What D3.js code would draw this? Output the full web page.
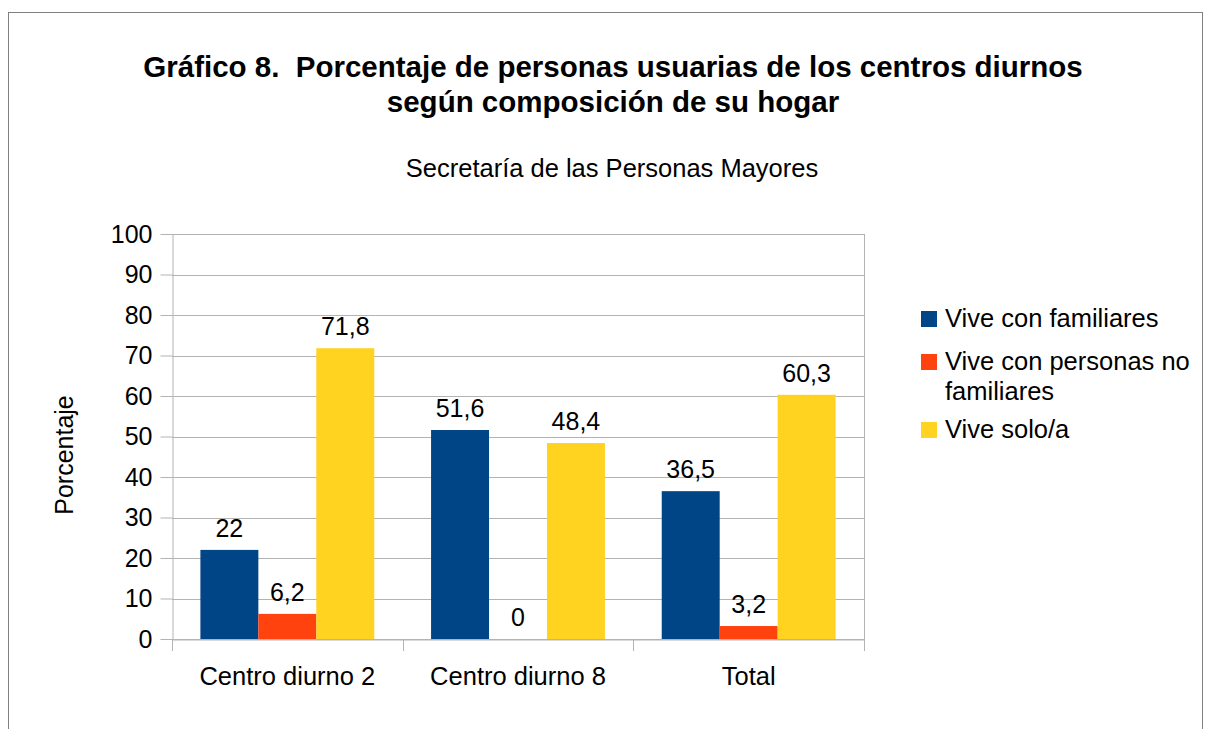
<!DOCTYPE html>
<html>
<head>
<meta charset="utf-8">
<script src="https://cdn.jsdelivr.net/npm/d3@7"></script>
<style>
  body { margin: 0; background: #fff; }
  text { font-family: "Liberation Sans", Arial, sans-serif; fill: #000; }
</style>
</head>
<body>
<div id="chart"></div>
<script>
// Data
var categories = ["Centro diurno 2", "Centro diurno 8", "Total"];
var series = ["Vive con familiares", "Vive con personas no familiares", "Vive solo/a"];
var familiares = [22, 51.6, 36.5];
var noFamiliares = [6.2, 0, 3.2];
var solo = [71.8, 48.4, 60.3];
var yTicks = [0, 10, 20, 30, 40, 50, 60, 70, 80, 90, 100];
var colors = ["#004586", "#ff420e", "#ffd320"];

var values = [familiares, noFamiliares, solo];

var W = 1205, H = 729;
var svg = d3.select("#chart").append("svg")
            .attr("width", W)
            .attr("height", H);

// outer frame
svg.append("rect")
   .attr("x", 8.5).attr("y", 12.5)
   .attr("width", 1194).attr("height", 740)
   .attr("fill", "none")
   .attr("stroke", "#808080")
   .attr("stroke-width", 1);

// Titles
svg.append("text").attr("x", 613).attr("y", 77)
   .attr("text-anchor", "middle").style("font-weight", "bold").style("font-size", "29.5px")
   .style("white-space", "pre")
   .text("Gráfico 8.  Porcentaje de personas usuarias de los centros diurnos");
svg.append("text").attr("x", 613).attr("y", 112)
   .attr("text-anchor", "middle").style("font-weight", "bold").style("font-size", "29.5px")
   .text("según composición de su hogar");
svg.append("text").attr("x", 612).attr("y", 177)
   .attr("text-anchor", "middle").style("font-size", "25.5px")
   .text("Secretaría de las Personas Mayores");

// Plot area
var plotLeft = 172, plotRight = 864, plotTop = 234, plotBottom = 639;

var x = d3.scaleBand()
          .domain(categories)
          .range([plotLeft, plotRight])
          .padding(0);

var xSub = d3.scaleBand()
             .domain(d3.range(series.length))
             .range([0, x.bandwidth()])
             .paddingInner(0)
             .paddingOuter(0.49);

var y = d3.scaleLinear()
          .domain([0, 100])
          .range([plotBottom, plotTop]);

// gridlines
svg.append("g")
   .selectAll("line")
   .data(yTicks)
   .enter().append("line")
   .attr("x1", plotLeft).attr("x2", plotRight)
   .attr("y1", function(d) { return Math.round(y(d)) + 0.5; })
   .attr("y2", function(d) { return Math.round(y(d)) + 0.5; })
   .attr("stroke", "#b3b3b3");

// right border of plot
svg.append("line")
   .attr("x1", plotRight + 0.5).attr("x2", plotRight + 0.5)
   .attr("y1", plotTop).attr("y2", plotBottom)
   .attr("stroke", "#b3b3b3");

// bars
var groups = svg.append("g")
   .selectAll("g")
   .data(values)
   .enter().append("g")
   .attr("fill", function(d, i) { return colors[i]; });

function rows(d, i) {
  return d.map(function(v, j) { return {v: v, s: i, c: categories[j]}; });
}

groups.selectAll("rect")
   .data(rows)
   .enter().append("rect")
   .attr("x", function(d) { return x(d.c) + xSub(d.s); })
   .attr("y", function(d) { return y(d.v); })
   .attr("width", xSub.bandwidth())
   .attr("height", function(d) { return y(0) - y(d.v); });

// data labels
groups.selectAll("text")
   .data(rows)
   .enter().append("text")
   .attr("x", function(d) { return x(d.c) + xSub(d.s) + xSub.bandwidth() / 2; })
   .attr("y", function(d) { return y(d.v) - 13; })
   .attr("text-anchor", "middle")
   .style("font-size", "25px")
   .text(function(d) { return String(d.v).replace(".", ","); });

// Y axis
var yAxis = svg.append("g")
   .attr("transform", "translate(" + (plotLeft + 0.5) + ",0)")
   .call(d3.axisLeft(y).tickValues(yTicks).tickSize(12).tickPadding(8).tickSizeOuter(0));
yAxis.select(".domain").attr("stroke", "#b3b3b3");
yAxis.selectAll(".tick line").attr("stroke", "#b3b3b3");
yAxis.selectAll(".tick text").style("font-size", "25px").attr("fill", "#000")
     .style("font-family", "Liberation Sans, Arial, sans-serif");

// X axis
var xAxis = svg.append("g")
   .attr("transform", "translate(0," + (plotBottom + 0.5) + ")")
   .call(d3.axisBottom(x).tickSize(0).tickPadding(27).tickSizeOuter(0));
xAxis.select(".domain").attr("stroke", "#b3b3b3");
xAxis.selectAll(".tick text").style("font-size", "25.5px").attr("fill", "#000")
     .style("font-family", "Liberation Sans, Arial, sans-serif");

// category boundary ticks
var bounds = categories.map(function(c) { return x(c); }).concat([plotRight]);
svg.append("g")
   .selectAll("line")
   .data(bounds)
   .enter().append("line")
   .attr("x1", function(d) { return Math.round(d) + 0.5; })
   .attr("x2", function(d) { return Math.round(d) + 0.5; })
   .attr("y1", plotBottom).attr("y2", plotBottom + 12)
   .attr("stroke", "#b3b3b3");

// Y title
svg.append("text")
   .attr("transform", "translate(73,455) rotate(-90)")
   .attr("text-anchor", "middle")
   .style("font-size", "25px")
   .text("Porcentaje");

// Legend
var legendRows = [
  {lines: ["Vive con familiares"], y: 327},
  {lines: ["Vive con personas no", "familiares"], y: 370},
  {lines: ["Vive solo/a"], y: 438}
];
var legend = svg.append("g");
legendRows.forEach(function(r, i) {
  legend.append("rect")
        .attr("x", 921).attr("y", r.y - 16)
        .attr("width", 16).attr("height", 16)
        .attr("fill", colors[i]);
  r.lines.forEach(function(t, k) {
    legend.append("text")
          .attr("x", 945).attr("y", r.y + k * 30)
          .style("font-size", "25.5px")
          .text(t);
  });
});
</script>
</body>
</html>
